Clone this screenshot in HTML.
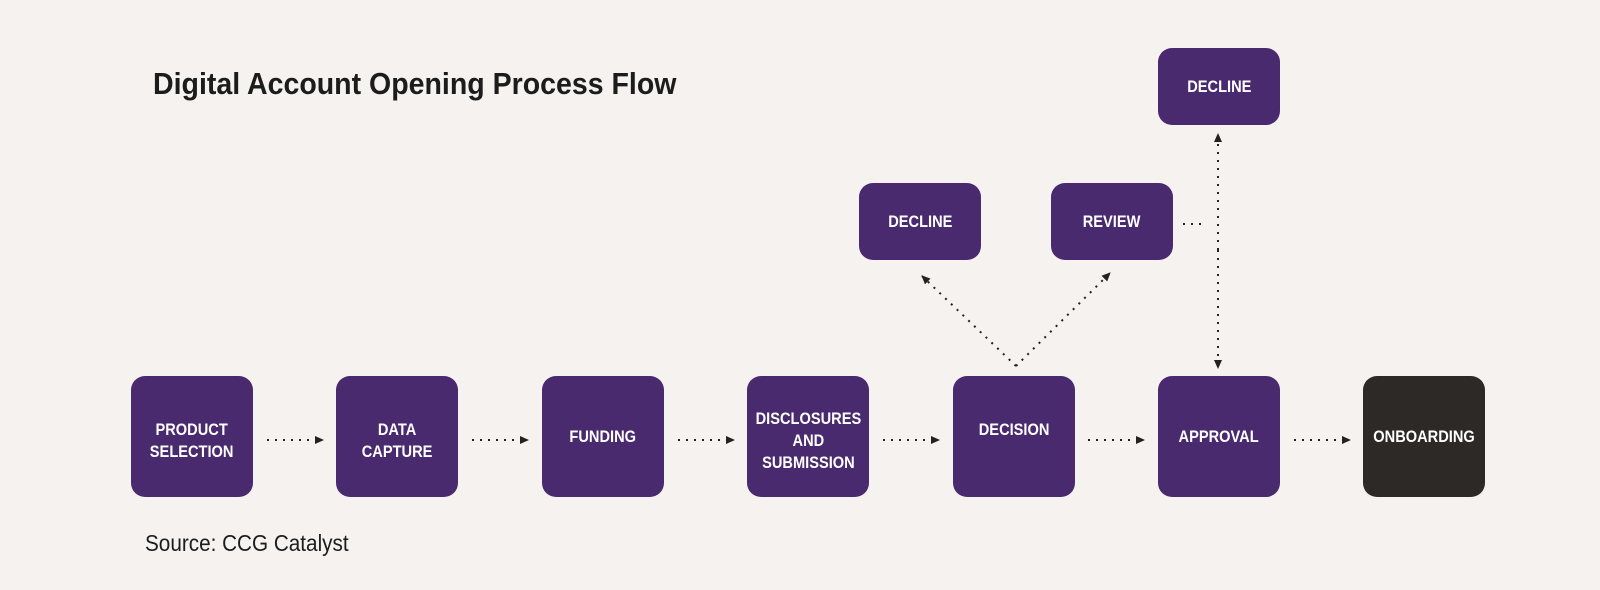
<!DOCTYPE html>
<html><head><style>
body{margin:0;width:1600px;height:590px;background:#f5f2ef;overflow:hidden;position:relative;font-family:"Liberation Sans",sans-serif;}
.b{position:absolute;background:#4a2a6e;border-radius:14px;color:#fff;font-weight:bold;font-size:17px;display:flex;align-items:center;justify-content:center;text-align:center;line-height:22px;}
.b span{display:inline-block;transform:scaleX(0.86);white-space:nowrap}
.t{position:absolute;left:153px;top:66px;font-size:31px;font-weight:bold;color:#1c1c1c;transform:scaleX(0.92);transform-origin:0 0;white-space:nowrap}
.s{position:absolute;left:145px;top:530px;font-size:23px;color:#1c1c1c;transform:scaleX(0.9);transform-origin:0 0;white-space:nowrap}
svg{position:absolute;left:0;top:0}
</style></head><body>
<div class="t">Digital Account Opening Process Flow</div>
<div class="s">Source: CCG Catalyst</div>
<div class="b" style="left:131px;top:376px;width:122px;height:121px;padding-top:8px;box-sizing:border-box"><span>PRODUCT<br>SELECTION</span></div>
<div class="b" style="left:336px;top:376px;width:122px;height:121px;padding-top:8px;box-sizing:border-box"><span>DATA<br>CAPTURE</span></div>
<div class="b" style="left:542px;top:376px;width:122px;height:121px"><span>FUNDING</span></div>
<div class="b" style="left:747px;top:376px;width:122px;height:121px;padding-top:8px;box-sizing:border-box"><span>DISCLOSURES<br>AND<br>SUBMISSION</span></div>
<div class="b" style="left:953px;top:376px;width:122px;height:121px;padding-bottom:14px;box-sizing:border-box"><span>DECISION</span></div>
<div class="b" style="left:1158px;top:376px;width:122px;height:121px"><span>APPROVAL</span></div>
<div class="b" style="left:1363px;top:376px;width:122px;height:121px;background:#2d2927"><span>ONBOARDING</span></div>
<div class="b" style="left:859px;top:183px;width:122px;height:77px"><span>DECLINE</span></div>
<div class="b" style="left:1051px;top:183px;width:122px;height:77px"><span>REVIEW</span></div>
<div class="b" style="left:1158px;top:48px;width:122px;height:77px"><span>DECLINE</span></div>
<svg width="1600" height="590">
<defs><marker id="a" markerWidth="10" markerHeight="10" refX="8" refY="5" orient="auto" markerUnits="userSpaceOnUse"><path d="M0,1 L9,5 L0,9z" fill="#222"/></marker></defs>
<g stroke="#222" stroke-width="2" stroke-dasharray="2 6" fill="none" marker-end="url(#a)">
<path d="M267 440H323"/><path d="M472 440H528"/><path d="M678 440H734"/><path d="M883 440H939"/><path d="M1088 440H1144"/><path d="M1294 440H1350"/>
<path d="M1016 366L922 276"/><path d="M1016 366L1110 273"/>
<path d="M1218 250V368"/><path d="M1218 250V134"/>
</g>
<path d="M1183 224H1206" stroke="#222" stroke-width="2" stroke-dasharray="2 6"/>
</svg>
</body></html>
